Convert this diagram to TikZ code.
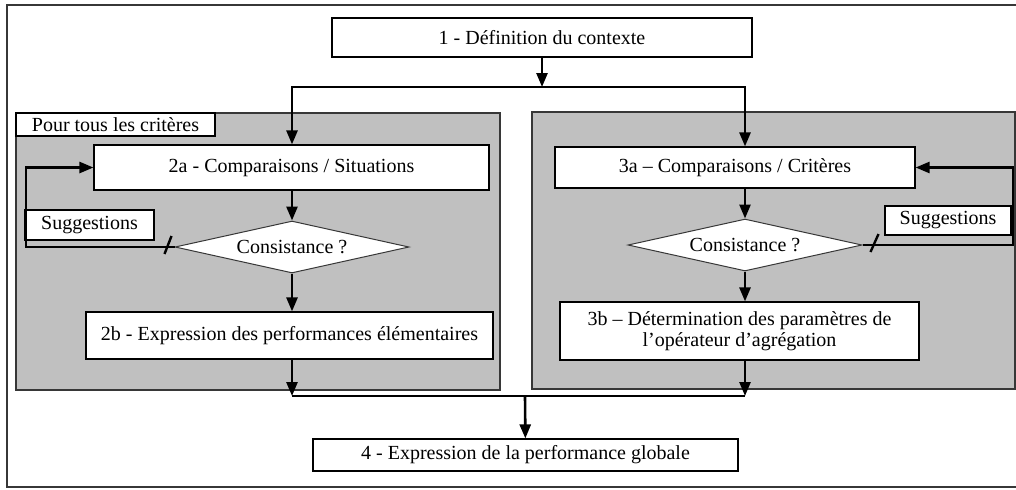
\documentclass[tikz,border=0pt]{standalone}
\usepackage{fontspec}
\setmainfont{Liberation Serif}
\usetikzlibrary{shapes.geometric, arrows.meta, calc}
\definecolor{panelgray}{RGB}{192,192,192}
\definecolor{edgegray}{RGB}{55,55,55}

\begin{document}
\begin{tikzpicture}[x=0.5pt, y=-0.5pt, font=\fontsize{10}{10.5}\selectfont,
  box/.style={draw, fill=white, line width=0.6pt, inner sep=0pt, align=center},
  test/.style={draw=edgegray, fill=white, diamond, aspect=4.5, inner sep=0pt,
    line width=0.5pt, minimum width=117pt, minimum height=26pt},
  panel/.style={draw=edgegray, fill=panelgray, line width=0.7pt},
  flow/.style={line width=1.3pt, -{Triangle[length=7pt,width=5.5pt]}},
  link/.style={line width=1.3pt},
  slash/.style={line width=1.2pt}]
\useasboundingbox (0,0) rectangle (1016,489);
\draw[edgegray, line width=0.8pt] (7,5) rectangle (1020,487);

% two gray panels
\draw[panel] (16,113) rectangle (500,390);
\draw[panel] (532,112) rectangle (1015,389);

\node[box, minimum width=210pt, minimum height=19.5pt] (box1) at (542,37.5) {1 - Définition du contexte};
\node[box, minimum width=99.5pt, minimum height=11.5pt] (allcrit) at (115.5,124.5) {Pour tous les critères};

% left branch
\node[box, minimum width=197.5pt, minimum height=22.5pt] (box2a) at (291.5,167.5) {2a - Comparaisons / Situations};
\node[test] (diam2) at (292,247) {Consistance ?};
\node[box, minimum width=203.5pt, minimum height=23.5pt] (box2b) at (289.5,335.5) {2b - Expression des performances élémentaires};
\node[box, minimum width=64.5pt, minimum height=15pt] (sugL) at (89.5,225) {Suggestions};

% right branch
\node[box, minimum width=180pt, minimum height=20.5pt] (box3a) at (735,167.5) {3a – Comparaisons / Critères};
\node[test] (diam3) at (745,245) {Consistance ?};
\node[box, minimum width=179.5pt, minimum height=29pt] (box3b) at (739.5,331) {3b – Détermination des paramètres de\\l’opérateur d’agrégation};
\node[box, minimum width=63pt, minimum height=14.5pt] (sugR) at (948,220.5) {Suggestions};

\node[box, minimum width=212.5pt, minimum height=16pt] (box4) at (525.5,455) {4 - Expression de la performance globale};

\coordinate (fork) at (542,87);
\coordinate (join) at (525,396);
\coordinate (loopL) at (26,0);
\coordinate (loopR) at (1013,0);

\draw[flow] (box1) -- (fork);
\draw[flow] (fork) -| (diam2 |- box2a.north);
\draw[flow] (fork) -| (diam3 |- box3a.north);

\draw[flow] (diam2 |- box2a.south) -- (diam2.north);
\draw[flow] (diam2.south) -- (diam2 |- box2b.north);
\draw[flow] (diam2 |- box2b.south) -- (diam2 |- join);
\draw[flow] (diam3 |- box3a.south) -- (diam3.north);
\draw[flow] (diam3.south) -- (diam3 |- box3b.north);
\draw[flow] (diam3 |- box3b.south) -- (diam3 |- join);
\draw[link] (diam2 |- join) -- (diam3 |- join);
\draw[flow] (join) -- (box4);

% feedback loops
\draw[flow] (diam2.west) -| (loopL |- box2a.west) -- (box2a.west);
\draw[flow] (diam3.east) -| (loopR |- box3a.east) -- (box3a.east);
\draw[slash] ($(diam2.west)+(-10,7)$) -- ++(7,-18);
\draw[slash] ($(diam3.east)+(8,7)$) -- ++(8,-18);
\end{tikzpicture}
\end{document}
